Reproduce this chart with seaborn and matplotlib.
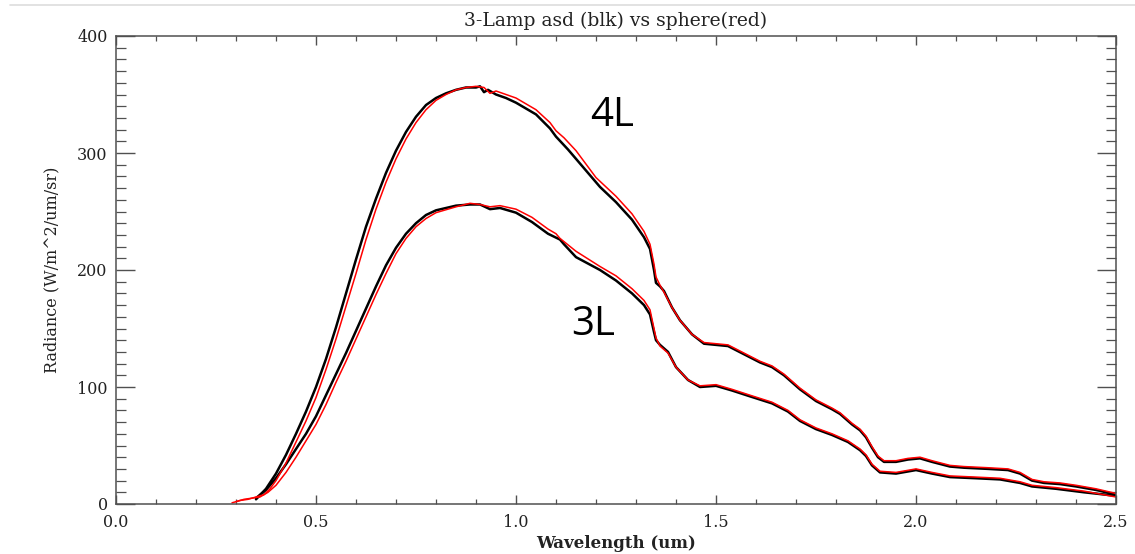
import matplotlib
matplotlib.use("Agg")
import matplotlib.pyplot as plt
from matplotlib.lines import Line2D
from matplotlib.ticker import MultipleLocator
import seaborn as sns
import pandas as pd

# ---------------- data ----------------
wl_4l_asd = [0.35, 0.375, 0.40, 0.425, 0.45, 0.475, 0.50, 0.525, 0.55, 0.575,
             0.60, 0.625, 0.65, 0.675, 0.70, 0.725, 0.75, 0.775, 0.80, 0.825,
             0.85, 0.875, 0.90, 0.91, 0.92, 0.93, 0.95, 0.975, 1.00, 1.05,
             1.085, 1.10, 1.13, 1.17, 1.21, 1.25, 1.29, 1.32, 1.335, 1.345,
             1.35, 1.36, 1.37, 1.39, 1.41, 1.44, 1.47, 1.50, 1.53, 1.57,
             1.61, 1.64, 1.67, 1.71, 1.75, 1.79, 1.81, 1.84, 1.86, 1.875,
             1.89, 1.905, 1.92, 1.95, 1.98, 2.01, 2.04, 2.085, 2.12, 2.18,
             2.23, 2.26, 2.29, 2.32, 2.36, 2.40, 2.45, 2.50]
rad_4l_asd = [4, 13, 26, 42, 60, 79, 100, 124, 151, 180,
              209, 237, 261, 283, 302, 318, 331, 341, 347, 351,
              354, 356, 356, 357, 352, 354, 350, 347, 343, 333,
              321, 314, 303, 287, 271, 258, 243, 228, 218, 200,
              189, 186, 182, 168, 157, 145, 137, 136, 135, 128,
              121, 117, 110, 98, 88, 81, 77, 68, 63, 57,
              48, 40, 36, 36, 38, 39, 36, 32, 31, 30,
              29, 26, 20, 18, 17, 15, 12, 8]

wl_4l_sph = [0.29, 0.31, 0.33, 0.35, 0.37, 0.385, 0.40, 0.425, 0.45, 0.475,
             0.50, 0.525, 0.55, 0.575, 0.60, 0.625, 0.65, 0.675, 0.70, 0.725,
             0.75, 0.775, 0.80, 0.825, 0.85, 0.875, 0.90, 0.92, 0.935, 0.95,
             0.975, 1.00, 1.05, 1.085, 1.10, 1.12, 1.15, 1.20, 1.25, 1.29,
             1.32, 1.335, 1.345, 1.35, 1.36, 1.37, 1.39, 1.41, 1.44, 1.47,
             1.50, 1.53, 1.57, 1.61, 1.64, 1.67, 1.71, 1.75, 1.79, 1.81,
             1.84, 1.86, 1.875, 1.89, 1.905, 1.92, 1.95, 1.98, 2.01, 2.04,
             2.085, 2.12, 2.18, 2.23, 2.26, 2.29, 2.32, 2.36, 2.40, 2.45, 2.50]
rad_4l_sph = [1, 3, 4, 6, 8, 13, 20, 35, 53, 71,
              91, 115, 141, 169, 197, 226, 252, 275, 295, 312,
              326, 337, 345, 350, 354, 356, 357, 356, 351, 353,
              350, 347, 337, 326, 319, 313, 302, 279, 263, 248,
              233, 222, 205, 194, 187, 181, 168, 157, 145, 138,
              137, 136, 129, 122, 118, 111, 99, 89, 82, 78,
              69, 64, 58, 49, 41, 37, 37, 39, 40, 37,
              33, 32, 31, 30, 27, 21, 19, 18, 16, 13, 9]

wl_3l_asd = [0.35, 0.375, 0.40, 0.425, 0.45, 0.475, 0.50, 0.525, 0.55, 0.575,
             0.60, 0.625, 0.65, 0.675, 0.70, 0.725, 0.75, 0.775, 0.80, 0.85,
             0.885, 0.91, 0.935, 0.96, 1.00, 1.04, 1.08, 1.11, 1.12, 1.15,
             1.21, 1.25, 1.29, 1.32, 1.335, 1.345, 1.35, 1.36, 1.38, 1.40,
             1.43, 1.46, 1.50, 1.54, 1.585, 1.64, 1.68, 1.71, 1.75, 1.79,
             1.83, 1.86, 1.875, 1.89, 1.91, 1.95, 2.00, 2.04, 2.085, 2.15,
             2.21, 2.26, 2.29, 2.35, 2.42, 2.50]
rad_3l_asd = [5, 12, 22, 34, 47, 60, 75, 93, 111, 129,
              148, 167, 186, 204, 219, 231, 240, 247, 251, 255,
              256, 256, 252, 253, 249, 241, 231, 226, 222, 211,
              200, 191, 180, 170, 162, 147, 140, 136, 130, 117,
              106, 100, 101, 97, 92, 86, 79, 71, 64, 59,
              53, 46, 41, 33, 27, 26, 29, 26, 23, 22,
              21, 18, 15, 13, 10, 7]

wl_3l_sph = [0.30, 0.32, 0.34, 0.36, 0.38, 0.40, 0.425, 0.45, 0.475, 0.50,
             0.525, 0.55, 0.575, 0.60, 0.625, 0.65, 0.675, 0.70, 0.725, 0.75,
             0.775, 0.80, 0.85, 0.885, 0.91, 0.935, 0.96, 1.00, 1.04, 1.08,
             1.10, 1.11, 1.15, 1.21, 1.25, 1.29, 1.32, 1.335, 1.345, 1.35,
             1.36, 1.38, 1.40, 1.43, 1.46, 1.50, 1.54, 1.585, 1.64, 1.68,
             1.71, 1.75, 1.79, 1.83, 1.86, 1.875, 1.89, 1.91, 1.95, 2.00,
             2.04, 2.085, 2.15, 2.21, 2.26, 2.29, 2.35, 2.42, 2.50]
rad_3l_sph = [2, 4, 5, 6, 10, 16, 27, 40, 54, 68,
              85, 104, 122, 141, 160, 179, 197, 214, 227, 237,
              244, 249, 254, 257, 256, 254, 255, 252, 245, 235,
              231, 227, 216, 203, 195, 184, 174, 166, 150, 142,
              135, 129, 117, 106, 101, 102, 98, 93, 87, 80,
              72, 65, 60, 54, 47, 42, 34, 28, 27, 30,
              27, 24, 23, 22, 19, 16, 14, 11, 6]

x_ticks = [0.0, 0.5, 1.0, 1.5, 2.0, 2.5]
x_tick_labels = ["0.0", "0.5", "1.0", "1.5", "2.0", "2.5"]
y_ticks = [0, 100, 200, 300, 400]
y_tick_labels = ["0", "100", "200", "300", "400"]

# ---------------- figure ----------------
sns.set_theme(style="white")
plt.rcParams["font.family"] = ["DejaVu Serif", "DejaVu Sans"]

fig = plt.figure(figsize=(11.35, 5.54), dpi=100)
ax = fig.add_axes([116 / 1135, 50 / 554, 1000 / 1135, 468 / 554])

frames = []
for name, wl, rad in [("4L asd", wl_4l_asd, rad_4l_asd),
                      ("3L asd", wl_3l_asd, rad_3l_asd),
                      ("4L sphere", wl_4l_sph, rad_4l_sph),
                      ("3L sphere", wl_3l_sph, rad_3l_sph)]:
    frames.append(pd.DataFrame({"wl": wl, "rad": rad, "series": name}))
df = pd.concat(frames, ignore_index=True)

for name, color, lw in [("4L asd", "black", 1.8), ("3L asd", "black", 1.8),
                        ("4L sphere", "#ff0000", 1.1), ("3L sphere", "#ff0000", 1.1)]:
    sub = df[df["series"] == name]
    sns.lineplot(data=sub, x="wl", y="rad", ax=ax, color=color, lw=lw,
                 sort=False, estimator=None, legend=False)

ax.set_xlim(0, 2.5)
ax.set_ylim(0, 400)
ax.set_xticks(x_ticks)
ax.set_xticklabels(x_tick_labels)
ax.set_yticks(y_ticks)
ax.set_yticklabels(y_tick_labels)
ax.xaxis.set_minor_locator(MultipleLocator(0.1))
ax.yaxis.set_minor_locator(MultipleLocator(10))

tick_col = "#505050"
ax.tick_params(axis="x", which="major", direction="in", length=6.5, width=1.0,
               color=tick_col, top=True, bottom=True, labelsize=11.5, pad=7,
               labelcolor="#222222")
ax.tick_params(axis="x", which="minor", direction="in", length=3.6, width=0.9,
               color=tick_col, top=True, bottom=True)
ax.tick_params(axis="y", which="major", direction="in", length=13.5, width=1.0,
               color=tick_col, left=True, right=True, labelsize=11.5, pad=6,
               labelcolor="#222222")
ax.tick_params(axis="y", which="minor", direction="in", length=7, width=0.9,
               color=tick_col, left=True, right=True)
for sp in ax.spines.values():
    sp.set_visible(True)
    sp.set_color(tick_col)
    sp.set_linewidth(1.1)

ax.set_xlabel("Wavelength (um)", fontsize=12, fontweight="bold", color="#222222",
              labelpad=3)
ax.set_ylabel("Radiance (W/m^2/um/sr)", fontsize=11.5, color="#222222", labelpad=12)
ax.set_title("3-Lamp asd (blk) vs sphere(red)", fontsize=13.5, color="#222222", pad=7)

ax.text(1.24, 332, "4L", fontsize=29, family=["Open Sans", "DejaVu Sans"],
        ha="center", va="center", color="black")
ax.text(1.1925, 153, "3L", fontsize=29, family=["Open Sans", "DejaVu Sans"],
        ha="center", va="center", color="black")

fig.add_artist(Line2D([10 / 1135, 1.0], [1 - 5 / 554, 1 - 5 / 554],
                      color="#dddddd", lw=1.2, transform=fig.transFigure))

fig.savefig("out.png", dpi=100, facecolor="white")
